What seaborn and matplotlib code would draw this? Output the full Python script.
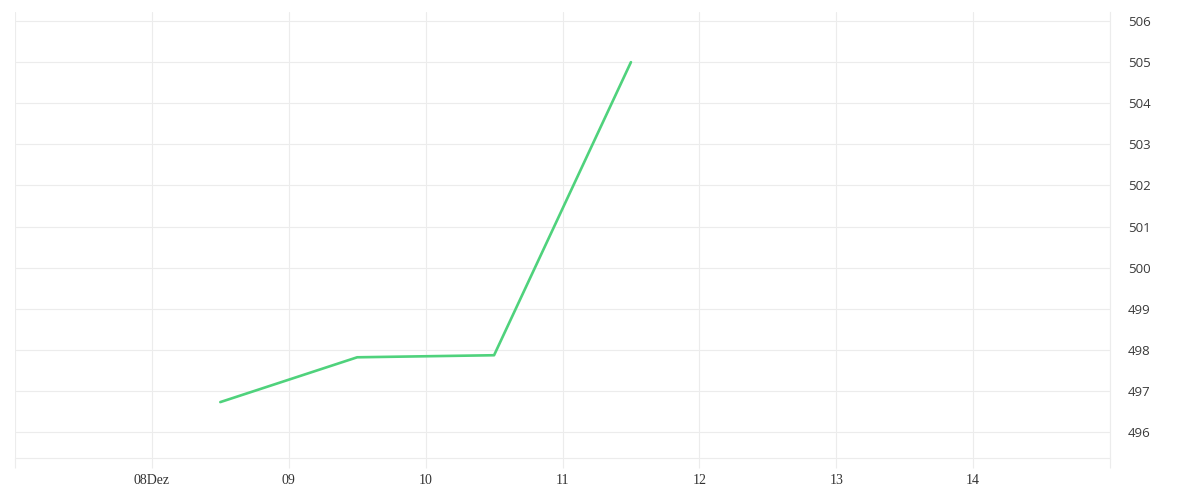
import pandas as pd
import matplotlib.pyplot as plt
import seaborn as sns

# data (midday points)
dates = ['2023-12-08 12:00', '2023-12-09 12:00', '2023-12-10 12:00', '2023-12-11 12:00']
values = [496.73, 497.82, 497.87, 505.0]

tick_days = pd.date_range('2023-12-07', '2023-12-15', freq='D')
tick_labels = ['', '08Dez', '09', '10', '11', '12', '13', '14', '']
y_ticks = [496, 497, 498, 499, 500, 501, 502, 503, 504, 505, 506]

df = pd.DataFrame({'date': pd.to_datetime(dates), 'value': values})

sns.set_style('white')
grid_col = '#ececec'

fig = plt.figure(figsize=(12, 5), dpi=100)
ax = fig.add_axes([0.0125, 0.084, 0.9125, 0.892])

sns.lineplot(data=df, x='date', y='value', ax=ax, color='#4fd27c', linewidth=1.9)

ax.set_xlim(tick_days[0], tick_days[-1])
ax.set_ylim(495.37, 506.22)

ax.set_xticks(tick_days)
ax.set_xticklabels(tick_labels, fontsize=10, family='Liberation Serif', color='#333333')
ax.set_yticks(y_ticks)
ax.set_yticklabels([str(v) for v in y_ticks], fontsize=9.5, family='Open Sans', color='#3a3a3a')

ax.yaxis.tick_right()
# light tick stubs under the axis, continuing the vertical gridlines
ax.tick_params(axis='x', bottom=True, direction='out', length=7.2, width=0.8,
               color=grid_col, pad=4)
ax.tick_params(axis='y', length=0, pad=13)

ax.grid(True, color=grid_col, linewidth=0.8)
ax.set_axisbelow(True)
for side in ['top', 'left']:
    ax.spines[side].set_visible(False)
for side in ['bottom', 'right']:
    ax.spines[side].set_color(grid_col)
    ax.spines[side].set_linewidth(0.8)

ax.set_xlabel('')
ax.set_ylabel('')

fig.savefig('out.png', dpi=100)
